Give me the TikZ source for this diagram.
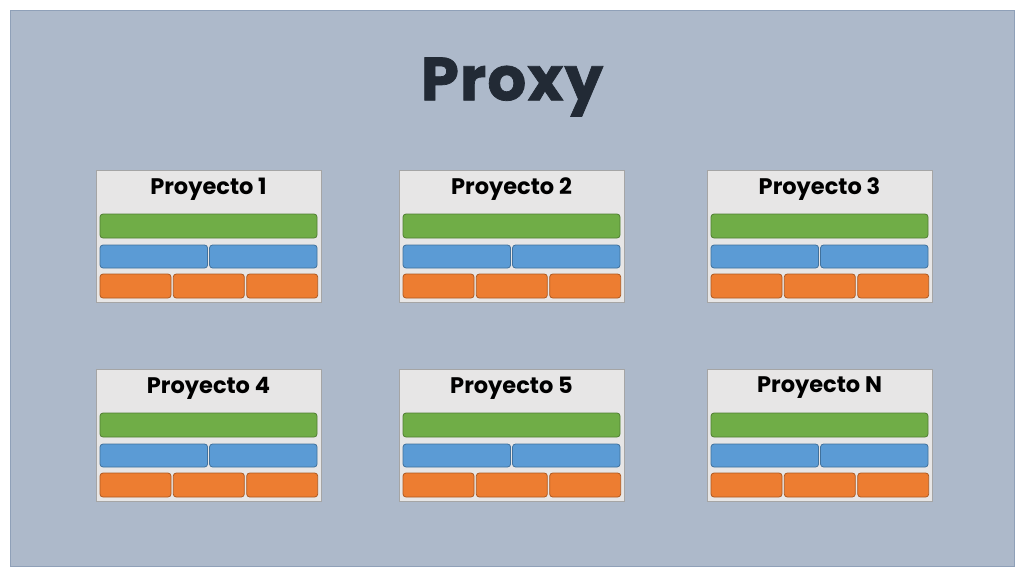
\documentclass[tikz,border=0pt]{standalone}
\usepackage{fontspec}
\setmainfont{Poppins}
\newfontfamily\titlefont{Poppins}[UprightFont={* Bold},FakeBold=1.2,LetterSpace=2]
\definecolor{bgfill}{HTML}{ADB9CA}
\definecolor{bgline}{HTML}{8FA0B8}
\definecolor{titlecol}{HTML}{222A35}
\definecolor{boxfill}{HTML}{E7E6E6}
\definecolor{boxline}{HTML}{A5A5A5}
\definecolor{gfill}{HTML}{70AD47}
\definecolor{gline}{HTML}{507E32}
\definecolor{bfill}{HTML}{5B9BD5}
\definecolor{bline}{HTML}{41719C}
\definecolor{ofill}{HTML}{ED7D31}
\definecolor{oline}{HTML}{AE5A21}
\tikzset{
  projbox/.style={draw=boxline, fill=boxfill, line width=0.8pt, minimum width=225pt, minimum height=132pt, inner sep=0pt, outer sep=0pt},
  projlabel/.style={font=\fontsize{22.5}{26}\selectfont\bfseries, text=black, inner sep=0pt},
  titletext/.style={font=\fontsize{61}{70}\titlefont, text=titlecol, inner sep=0pt},
  barbase/.style={rounded corners=3pt, line width=0.8pt, inner sep=0pt, outer sep=0pt},
  gbar/.style={barbase, draw=gline, fill=gfill, minimum width=217pt, minimum height=24pt},
  bbar/.style={barbase, draw=bline, fill=bfill, minimum width=107.5pt, minimum height=23pt},
  obar/.style={barbase, draw=oline, fill=ofill, minimum width=71pt, minimum height=24pt},
}
\begin{document}
\begin{tikzpicture}[x=1pt,y=-1pt]
\useasboundingbox (0,0) rectangle (1024,576);
\fill[white] (0,0) rectangle (1024,576);
\draw[draw=bgline, fill=bgfill, line width=0.8pt] (10,10) rectangle (1014,566);
\node[titletext] (title) at (512,87) {Proxy};
\foreach \n/\x/\y/\t in {p1/96/170/1, p2/399/170/2, p3/707/170/3, p4/96/369/4, p5/399/369/5, p6/707/369/N} {
  \node[projbox] (\n) at (\x+112.5,\y+66) {};
  \node[projlabel] (\n-t) at (\x+112.5,\y+19) {Proyecto \t};
  \node[gbar] (\n-g) at (\x+112.5,\y+56) {};
  \node[bbar] (\n-b1) at (\x+57.8,\y+86.5) {};
  \node[bbar] (\n-b2) at (\x+167.3,\y+86.5) {};
  \node[obar] (\n-o1) at (\x+39.5,\y+116) {};
  \node[obar] (\n-o2) at (\x+112.8,\y+116) {};
  \node[obar] (\n-o3) at (\x+186.2,\y+116) {};
}
\end{tikzpicture}
\end{document}
